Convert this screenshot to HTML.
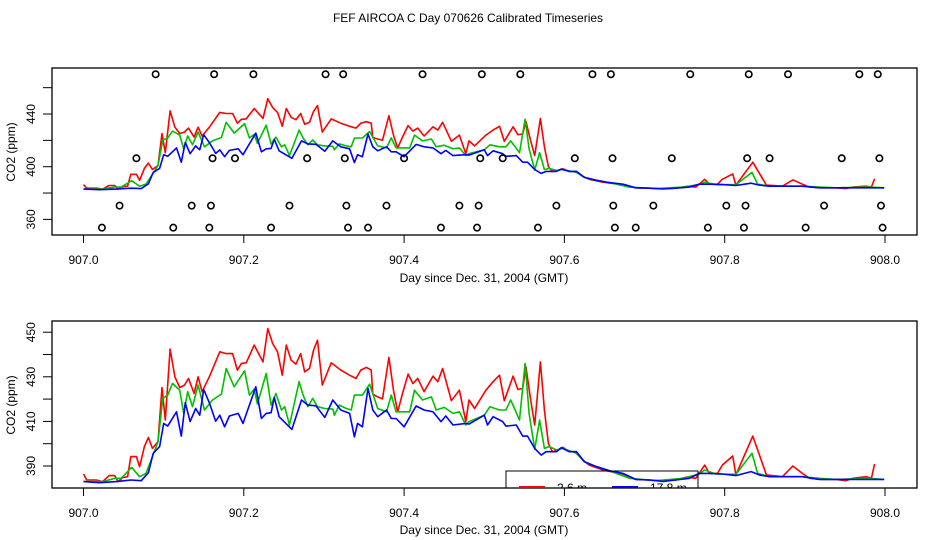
<!DOCTYPE html>
<html><head><meta charset="utf-8">
<style>
html,body{margin:0;padding:0;background:#fff;}
svg{display:block;font-family:"Liberation Sans",Arial,sans-serif;}
</style></head>
<body>
<svg id="chart" width="936" height="540" viewBox="0 0 936 540" xmlns="http://www.w3.org/2000/svg">
<rect width="936" height="540" fill="#fff"/>
<text x="468" y="22" font-size="12" text-anchor="middle">FEF AIRCOA C  Day 070626  Calibrated Timeseries</text>
<defs>
<clipPath id="clipTop"><rect x="52" y="68" width="865" height="167"/></clipPath>
<clipPath id="clipBot"><rect x="52" y="321" width="865" height="167"/></clipPath>
</defs>
<g id="top"></g>
<g id="bot"></g>
</svg>
<script>
// Day fraction since 907.0 and CO2 (ppm)
const redT=[0,0.004,0.016,0.024,0.032,0.039,0.043,0.049,0.055,0.059,0.066,0.070,0.076,0.081,0.086,0.093,0.098,0.102,0.108,0.114,0.120,0.126,0.131,0.138,0.143,0.148,0.157,0.170,0.178,0.186,0.192,0.197,0.203,0.213,0.224,0.230,0.236,0.242,0.248,0.253,0.259,0.265,0.271,0.276,0.282,0.287,0.292,0.298,0.309,0.321,0.332,0.340,0.346,0.353,0.359,0.361,0.367,0.373,0.381,0.387,0.392,0.398,0.405,0.411,0.417,0.425,0.436,0.442,0.448,0.459,0.469,0.477,0.481,0.488,0.502,0.511,0.519,0.525,0.536,0.542,0.548,0.552,0.558,0.563,0.570,0.575,0.580,0.585,0.592,0.598,0.606,0.615,0.623,0.631,0.648,0.664,0.673,0.689,0.706,0.723,0.739,0.752,0.764,0.775,0.781,0.791,0.797,0.810,0.814,0.835,0.852,0.872,0.885,0.897,0.906,0.922,0.939,0.951,0.960,0.976,0.983,0.987];
const redV=[386.4,383.7,383.7,383.0,385.7,385.7,383.0,384.8,385.2,394.2,394.2,389.7,398.7,402.8,397.9,400.9,425.2,410.6,442.4,430.0,425.2,426.3,429.3,422.5,430.0,423.3,430.0,441.2,440.4,440.4,433.0,436.0,436.3,444.2,436.7,451.6,444.9,441.2,430.7,444.2,437.5,435.7,440.4,432.2,433.7,441.9,446.4,426.3,436.3,433.0,430.7,429.3,433.0,434.2,433.0,422.2,421.0,420.1,438.7,423.3,414.3,422.5,431.2,427.0,429.3,423.3,430.3,427.8,433.7,419.3,424.0,409.9,419.6,415.8,424.0,427.8,430.7,419.3,430.3,424.3,424.8,434.5,419.6,408.4,436.7,415.1,400.1,396.4,397.2,398.4,396.4,396.4,392.7,390.4,388.2,387.0,386.4,384.0,383.7,383.4,383.7,385.0,384.5,390.4,386.7,386.7,390.4,394.5,386.0,403.4,386.0,385.2,390.0,386.7,384.5,384.0,384.0,383.4,384.5,385.2,384.5,390.9];
const greenT=[0,0.024,0.039,0.047,0.060,0.070,0.078,0.086,0.093,0.099,0.105,0.111,0.120,0.125,0.130,0.136,0.143,0.151,0.161,0.172,0.178,0.188,0.201,0.207,0.213,0.217,0.228,0.234,0.240,0.247,0.251,0.257,0.269,0.274,0.280,0.286,0.292,0.301,0.311,0.313,0.319,0.328,0.334,0.338,0.348,0.357,0.367,0.378,0.384,0.390,0.407,0.413,0.423,0.434,0.440,0.450,0.461,0.469,0.477,0.481,0.500,0.507,0.519,0.527,0.533,0.544,0.551,0.556,0.563,0.569,0.575,0.581,0.590,0.598,0.615,0.625,0.640,0.656,0.681,0.714,0.748,0.768,0.775,0.789,0.814,0.834,0.841,0.856,0.881,0.897,0.918,0.939,0.980,0.999];
const greenV=[383.0,383.0,384.5,384.5,389.4,385.2,386.7,394.2,400.9,420.3,421.8,427.0,424.0,413.6,423.3,416.6,426.3,415.1,419.6,422.2,433.7,425.5,432.7,421.8,424.5,417.8,431.5,417.3,422.5,415.1,416.6,408.4,427.8,421.8,416.6,420.3,416.6,415.8,415.5,412.8,417.3,415.8,415.1,421.8,421.8,426.7,415.8,414.3,421.8,414.3,414.3,424.0,419.6,421.0,415.1,416.3,413.6,414.3,408.4,409.9,412.8,416.6,415.1,415.1,419.6,410.6,436.0,413.6,397.5,410.6,397.9,398.7,397.2,397.9,395.7,391.9,389.7,387.9,384.5,383.4,384.5,386.4,388.2,386.4,386.3,395.7,386.7,385.2,385.2,385.2,384.5,384.0,384.5,384.0];
const blueT=[0,0.020,0.041,0.059,0.072,0.081,0.087,0.095,0.100,0.105,0.116,0.122,0.127,0.133,0.140,0.145,0.150,0.157,0.165,0.170,0.176,0.182,0.193,0.199,0.215,0.222,0.228,0.234,0.238,0.244,0.260,0.272,0.280,0.290,0.301,0.311,0.321,0.332,0.338,0.342,0.348,0.355,0.361,0.367,0.378,0.384,0.390,0.400,0.415,0.425,0.436,0.446,0.452,0.461,0.477,0.481,0.500,0.504,0.511,0.523,0.527,0.540,0.548,0.554,0.563,0.571,0.577,0.590,0.596,0.606,0.615,0.625,0.640,0.656,0.673,0.689,0.706,0.723,0.739,0.756,0.768,0.781,0.797,0.814,0.833,0.843,0.856,0.881,0.897,0.918,0.939,0.999];
const blueV=[383.0,382.5,383.0,383.7,383.4,387.0,395.7,398.7,409.1,407.9,414.3,403.4,418.4,409.9,415.8,412.8,424.3,418.4,410.1,412.8,407.6,412.4,413.6,409.1,425.5,411.3,413.6,413.9,420.7,412.1,406.4,419.6,417.3,417.0,411.8,419.6,415.1,413.6,403.1,409.1,407.6,424.8,415.1,412.1,415.1,411.3,411.3,407.6,416.9,415.1,414.3,409.9,412.4,408.4,409.1,408.8,412.8,408.4,412.1,409.9,407.9,408.4,403.4,403.4,397.9,394.9,396.4,396.4,398.2,396.4,396.4,391.9,389.7,387.9,386.7,384.0,383.7,383.1,383.7,384.5,386.7,386.7,386.4,385.7,387.5,386.0,385.2,385.2,385.2,384.0,384.0,384.0];
// flag marker rows (top panel): day fractions and level (ppm)
const flagRowLevels=[470.2,406.4,370.4,353.7];
const flagRow1=[0.090,0.163,0.212,0.302,0.324,0.423,0.497,0.545,0.635,0.658,0.757,0.830,0.879,0.968,0.991];
const flagRow2=[0.066,0.161,0.189,0.279,0.326,0.400,0.495,0.523,0.613,0.660,0.734,0.828,0.856,0.946,0.993];
const flagRow3=[0.045,0.135,0.159,0.257,0.328,0.378,0.469,0.493,0.590,0.661,0.711,0.802,0.826,0.924,0.995];
const flagRow4=[0.023,0.112,0.157,0.234,0.330,0.355,0.446,0.491,0.567,0.663,0.689,0.779,0.824,0.901,0.997];
const xTicks=["907.0","907.2","907.4","907.6","907.8","908.0"];
const topYTicks=[360,380,400,420,440,460];
const topYLabels=[360,400,440];
const botYTicks=[390,400,410,420,430,440,450];
const botYLabels=[390,410,430,450];

const NS="http://www.w3.org/2000/svg";
function mk(tag,attrs,parent){const e=document.createElementNS(NS,tag);for(const k in attrs)e.setAttribute(k,attrs[k]);parent.appendChild(e);return e;}
const xS=d=>83.5+d*801.5;

function panel(g,top,bottom,yS,yTicks,yLabels,clipId,tickY,labelY,xlabY,ylabCY){
  const box=mk('rect',{x:52,y:top,width:865,height:bottom-top,fill:'none',stroke:'#000','stroke-width':1.3},g);
  
  
  xTicks.forEach(t=>{const x=xS(parseFloat(t)-907);
    const l=mk('line',{x1:x,x2:x,y1:bottom,y2:bottom+8,stroke:'#000','stroke-width':1},g);
    
    
    const tx=mk('text',{x:x,y:labelY,'font-size':12,'text-anchor':'middle'},g);tx.textContent=t;
    
    
  });
  yTicks.forEach(v=>{const y=yS(v);
    const l=mk('line',{x1:43,x2:52,y1:y,y2:y,stroke:'#000','stroke-width':1},g);
    
    
  });
  yLabels.forEach(v=>{const y=yS(v);
    const tx=mk('text',{x:0,y:0,'font-size':12,'text-anchor':'middle',transform:`translate(35,${y}) rotate(-90)`},g);tx.textContent=v;
    
    
  });
  const xl=mk('text',{x:484,y:xlabY,'font-size':12,'text-anchor':'middle'},g);xl.textContent='Day since Dec. 31, 2004 (GMT)';
  
  
  const yl=mk('text',{x:0,y:0,'font-size':12,'text-anchor':'middle',transform:`translate(15,${ylabCY}) rotate(-90)`},g);yl.textContent='CO2 (ppm)';
  
  
  const cg=mk('g',{'clip-path':`url(#${clipId})`},g);
  [[redT,redV,'#ff0000','red'],[greenT,greenV,'#00c000','green'],[blueT,blueV,'#0000ff','blue']].forEach(([T,V,c,n])=>{
    const p=mk('polyline',{points:T.map((t,i)=>xS(t).toFixed(1)+','+yS(V[i]).toFixed(1)).join(' '),fill:'none',stroke:c,'stroke-width':1.6,'stroke-linejoin':'round'},cg);
    
    
  });
  return cg;
}

const topG=document.getElementById('top');
const yTop=v=>166.7-(v-400)*1.317;
const topClip=panel(topG,68,235,yTop,topYTicks,topYLabels,'clipTop',235,264,282,152);
[flagRow1,flagRow2,flagRow3,flagRow4].forEach((row,ri)=>{
  row.forEach(d=>{
    const c=mk('circle',{cx:xS(d),cy:yTop(flagRowLevels[ri]),r:3.2,fill:'none',stroke:'#000','stroke-width':1.6},topG);
    
    
  });
});

const botG=document.getElementById('bot');
const yBot=v=>466-(v-390)*2.23;
const botClip=panel(botG,321,488,yBot,botYTicks,botYLabels,'clipBot',488,517,534,405);
// legend (clipped by plot area)
const lg=mk('g',{},botClip);


mk('rect',{x:506,y:471,width:192,height:40,fill:'none',stroke:'#000','stroke-width':1},lg);
const l1=mk('line',{x1:519,x2:545,y1:487,y2:487,stroke:'#ff0000','stroke-width':2},lg);


const t1=mk('text',{x:557,y:492,'font-size':12},lg);t1.textContent='2.6 m';
const l2=mk('line',{x1:612,x2:638,y1:487,y2:487,stroke:'#0000ff','stroke-width':2},lg);


const t2=mk('text',{x:650,y:492,'font-size':12},lg);t2.textContent='17.8 m';
</script>
</body></html>
